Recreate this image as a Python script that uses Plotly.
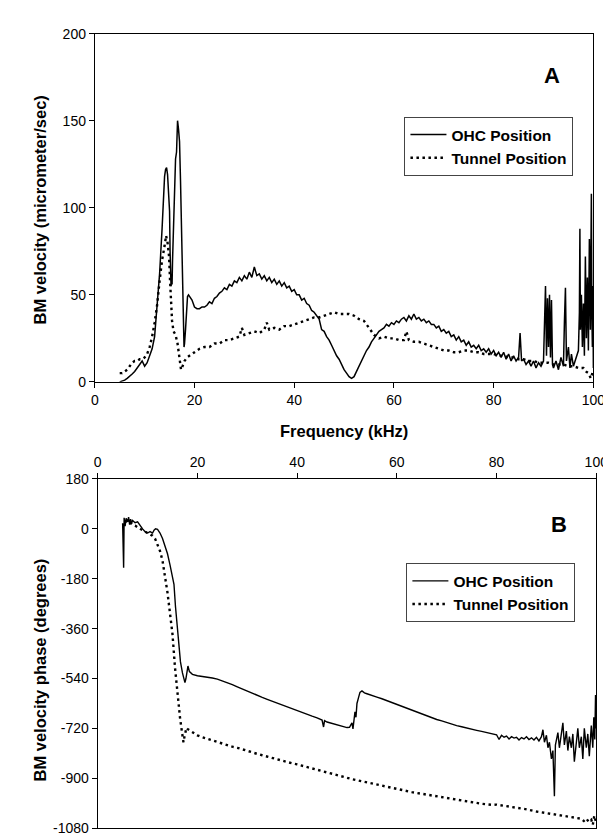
import plotly.graph_objects as go

# ---------------- Panel A: BM velocity magnitude ----------------
ohc_mag_f = [5.0, 5.5, 6.0, 6.5, 7.0, 7.5, 8.0, 8.5, 9.0, 9.5, 10.0, 10.5, 11.0, 11.5, 12.0, 12.5,
             13.0, 13.5, 13.8, 14.0, 14.2, 14.4, 14.6, 14.8, 15.0, 15.1, 15.2, 15.3, 15.4, 15.5, 15.6,
             15.8, 16.0, 16.2, 16.4, 16.6, 16.8, 17.0, 17.2, 17.4, 17.6, 17.8, 17.9, 18.0, 18.2, 18.4,
             18.6, 18.8, 19.0, 19.5, 20.0, 20.5, 21.0, 21.5, 22.0,
             22.5, 23, 23.5, 24, 24.5, 25, 25.5, 26, 26.5, 27, 27.5, 28, 28.5, 29, 29.5, 30, 30.5, 31,
             31.5, 32, 32.5, 33, 33.5, 34, 34.5, 35, 35.5, 36, 36.5, 37, 37.5, 38, 38.5, 39, 39.5, 40,
             40.5, 41, 41.5, 42, 42.5, 43, 43.5, 44, 44.5, 45, 45.5, 46, 46.5, 47, 47.5, 48, 48.5, 49,
             49.5, 50, 50.5, 51, 51.5, 52, 52.5, 53, 53.5, 54, 54.5, 55, 55.5, 56, 56.5, 57, 57.5, 58,
             58.5, 59, 59.5, 60, 60.5, 61, 61.5, 62, 62.5, 63, 63.5, 64, 64.5, 65, 65.5, 66, 66.5, 67,
             67.5, 68, 68.5, 69, 69.5, 70, 70.5, 71, 71.5, 72, 72.5, 73, 73.5, 74, 74.5, 75, 75.5, 76,
             76.5, 77, 77.5, 78, 78.5, 79, 79.5, 80, 80.5, 81, 81.5, 82, 82.5, 83, 83.5, 84, 84.5, 85,
             85.3, 85.6, 86, 86.5, 87, 87.5, 88, 88.5, 89, 89.5, 90, 90.2, 90.4, 90.6, 90.8, 91, 91.2,
             91.4, 91.6, 91.8, 92, 92.5, 93, 93.5, 94, 94.2, 94.4, 94.6, 95, 95.3, 95.6, 96, 96.5, 97,
             97.2, 97.3, 97.4, 97.6, 97.8, 98, 98.2, 98.4, 98.6, 98.8, 99, 99.2, 99.4, 99.5, 99.6, 99.7,
             99.8, 99.9, 100]
ohc_mag_v = [0, 0.5, 1, 2, 3, 4.5, 6, 8, 10, 12, 9, 11, 15, 19, 26, 42,
             62, 88, 108, 118, 122, 123, 119, 110, 98, 75, 60, 55, 62, 56, 70,
             95, 112, 128, 132, 150, 145, 138, 115, 90, 60, 35, 20, 22, 30, 42,
             49, 50, 49, 47, 43, 42, 42, 43, 43,
             44, 46, 45, 48, 49, 51, 52, 54, 53, 56, 55, 58, 57, 60, 58, 61, 59, 63,
             60, 66, 61, 62, 59, 61, 58, 60, 57, 59, 56, 58, 55, 57, 54, 55, 52, 53,
             50, 50, 47, 48, 45, 44, 41, 40, 38, 36, 30, 29, 26, 24, 21, 18, 15, 13,
             10, 7, 5, 3, 2, 3, 6, 9, 12, 15, 18, 20, 23, 25, 27, 29, 30, 31,
             33, 32, 34, 33, 35, 34, 36, 37, 35, 38, 36, 39, 36, 37, 35, 36, 34, 35,
             33, 33, 31, 32, 29, 30, 28, 29, 26, 27, 24, 26, 23, 24, 21, 23, 20, 21,
             19, 21, 18, 19, 17, 19, 16, 18, 15, 17, 14, 17, 13, 16, 12, 15, 12, 14,
             28, 12, 13, 10, 12, 9, 12, 8, 11, 9, 12, 30, 55, 15, 48, 20, 50,
             14, 47, 10, 8, 12, 7, 14, 9, 35, 54, 12, 20, 8, 16, 9, 13, 18,
             40, 88, 30, 50, 20, 45, 15, 72, 25, 60, 18, 82, 30, 70, 108, 40,
             20, 55, 8]

tun_mag_f = [5, 5.5, 6, 6.5, 7, 7.5, 8, 8.5, 9, 9.5, 10, 10.5, 11, 11.5, 12, 12.5, 13, 13.5, 14,
             14.3, 14.6, 14.9, 15.1, 15.3, 15.5, 15.8, 16.2, 16.6, 17.0, 17.3, 17.6, 18, 18.5, 19,
             20, 21, 22, 23, 24, 25, 26, 27, 28, 29, 29.5, 30, 31, 32, 33, 34, 34.5, 35, 36, 37, 38,
             39, 40, 41, 42, 43, 44, 45, 46, 47, 48, 49, 50, 51, 52, 53, 54, 55, 56, 57, 58, 59, 60,
             61, 62, 62.5, 63, 64, 65, 66, 67, 68, 69, 70, 71, 72, 73, 74, 75, 76, 77, 78, 79, 80,
             81, 82, 83, 84, 85, 86, 87, 88, 89, 90, 91, 92, 93, 94, 95, 96, 97, 98, 98.5, 99, 99.5,
             100]
tun_mag_v = [5, 5, 6, 7, 9, 11, 12, 12, 13, 13, 14, 16, 20, 26, 34, 44, 58, 70, 78,
             84, 80, 72, 58, 45, 35, 29, 27, 22, 12, 7, 9, 12, 14, 15,
             17, 19, 20, 20, 22, 22, 24, 24, 25, 26, 31, 27, 28, 29, 28, 30, 34, 30, 31, 30, 32,
             32, 33, 34, 35, 36, 37, 37, 38, 39, 40, 39, 39, 39, 38, 36, 35, 31, 27, 25, 26, 25, 25,
             24, 24, 29, 24, 23, 23, 22, 21, 20, 19, 18, 18, 17, 17, 18, 18, 17, 17, 16, 16, 16,
             15, 15, 14, 14, 13, 13, 12, 12, 11, 11, 11, 10, 10, 10, 9, 9, 8, 8, 6, 5, 2,
             7]

# ---------------- Panel B: BM velocity phase ----------------
ohc_ph_f = [5, 5.1, 5.2, 5.3, 5.5, 5.7, 6, 6.2, 6.4, 6.6, 6.8, 7, 7.5, 8, 8.5, 9, 9.5, 10, 10.5,
            11, 11.3, 11.6, 12, 12.5, 13, 13.5, 14, 14.5, 15, 15.3, 15.6, 16, 16.3, 16.6, 17, 17.3,
            17.5, 17.7, 17.9, 18.1, 18.4, 19, 20, 21, 22, 23, 24, 25, 26, 27, 28, 29, 30, 31, 32,
            33, 34, 35, 36, 37, 38, 39, 40, 41, 42, 43, 44, 45, 45.3, 45.5, 46, 47, 48, 49, 50,
            50.5, 51, 51.2, 51.4, 51.6, 51.8, 52, 52.3, 52.6, 53, 53.5, 54, 55, 56, 57, 58, 59, 60,
            61, 62, 63, 64, 65, 66, 67, 68, 69, 70, 71, 72, 73, 74, 75, 76, 77, 78, 79, 80, 80.5,
            81, 81.5, 82, 82.5, 83, 83.5, 84, 84.5, 85, 85.5, 86, 86.5, 87, 87.5, 88, 88.5, 89,
            89.3, 89.6, 90, 90.3, 90.6, 91, 91.3, 91.6, 91.8, 92, 92.3, 92.6, 93, 93.3, 93.6, 94,
            94.3, 94.6, 95, 95.3, 95.6, 96, 96.3, 96.6, 97, 97.3, 97.6, 98, 98.3, 98.6, 99, 99.3,
            99.5, 99.7, 99.85, 100]
ohc_ph_v = [20, -30, -140, 40, 10, 38, 25, 42, 15, 35, 20, 30, 22, 25, 10, 0, -10, -15, -10,
            -15, -5, 0, -2, -15, -35, -60, -90, -130, -170, -200, -280, -370, -430, -480, -520, -545,
            -555, -540, -505, -495, -515, -525, -530, -532, -535, -538, -542, -548, -555, -562, -570, -578, -586, -594, -602,
            -608, -615, -622, -628, -636, -643, -650, -656, -663, -670, -676, -682, -690, -715, -692, -697, -702, -708, -714, -717,
            -716, -700, -722, -690, -660, -680, -630, -610, -590, -585, -592, -595, -600, -607, -613, -620, -627, -634,
            -641, -648, -655, -662, -668, -675, -681, -688, -693, -699, -705, -710, -714, -719, -723, -727, -731, -735, -739, -743, -760,
            -745, -752, -748, -758, -750, -755, -752, -762, -753, -758, -750, -760, -754, -762, -752, -765, -750,
            -725, -770, -745, -790, -770, -830, -800, -965, -780, -760, -735, -790, -740, -700, -780, -730,
            -800, -750, -790, -740, -840, -760, -720, -790, -750, -830, -720, -790, -740, -820, -710, -790,
            -680, -760, -600, -720]

tun_ph_f = [5.5, 6, 6.5, 7, 7.5, 8, 8.5, 9, 9.5, 10, 10.5, 11, 11.5, 12, 12.5, 13, 13.5, 14, 14.5,
            15, 15.5, 16, 16.5, 16.8, 17, 17.2, 17.4, 17.6, 17.8, 18, 18.5, 19, 20, 21, 22, 23, 24,
            25, 26, 27, 28, 29, 30, 31, 32, 33, 34, 35, 36, 37, 38, 39, 40, 41, 42, 43, 44, 45, 46,
            47, 48, 49, 50, 51, 52, 53, 54, 55, 56, 57, 58, 59, 60, 61, 62, 63, 64, 65, 66, 67, 68,
            69, 70, 71, 72, 73, 74, 75, 76, 77, 78, 79, 80, 82, 84, 86, 88, 90, 92, 94, 95, 96, 97,
            97.5, 98, 98.5, 99, 99.3, 99.6, 100]
tun_ph_v = [30, 20, 22, 15, 12, 5, 0, -5, -10, -15, -20, -25, -35, -55, -80, -115, -165, -230, -305,
            -380, -500, -600, -680, -720, -755, -770, -750, -730, -718, -722, -728, -735, -745, -752, -758, -762, -768,
            -775, -780, -786, -790, -796, -800, -806, -812, -817, -822, -828, -832, -838, -842, -846, -850, -855, -860, -865, -870, -874, -878,
            -883, -888, -893, -898, -903, -907, -911, -915, -919, -924, -928, -932, -936, -940, -943, -946, -950, -953, -956, -959, -962, -966,
            -970, -973, -976, -979, -982, -985, -988, -990, -992, -994, -996, -995, -1000, -1005, -1012, -1020, -1026, -1032, -1038, -1040, -1044, -1046,
            -1054, -1045, -1058, -1050, -1068, -1035, -1062]

freq_ticks = [0, 20, 40, 60, 80, 100]
mag_ticks = [0, 50, 100, 150, 200]
phase_ticks = [180, 0, -180, -360, -540, -720, -900, -1080]
phase_tick_text = ["180", "0", "-180", "-360", "-540", "-720", "-900", "-1080"]

FONT = "Liberation Sans, Arial, sans-serif"
BLACK = "black"

fig = go.Figure()
fig.add_trace(go.Scatter(x=ohc_mag_f, y=ohc_mag_v, mode="lines", name="OHC Position",
                         line=dict(color=BLACK, width=1.5), xaxis="x", yaxis="y", legend="legend"))
fig.add_trace(go.Scatter(x=tun_mag_f, y=tun_mag_v, mode="lines", name="Tunnel Position",
                         line=dict(color=BLACK, width=2.4, dash="2.5px,3.5px"), xaxis="x", yaxis="y",
                         legend="legend"))
fig.add_trace(go.Scatter(x=ohc_ph_f, y=ohc_ph_v, mode="lines", name="OHC Position",
                         line=dict(color=BLACK, width=1.4), xaxis="x2", yaxis="y2", legend="legend2"))
fig.add_trace(go.Scatter(x=tun_ph_f, y=tun_ph_v, mode="lines", name="Tunnel Position",
                         line=dict(color=BLACK, width=2.4, dash="2.5px,3.5px"), xaxis="x2", yaxis="y2",
                         legend="legend2"))

W, H = 611, 836
axis_common = dict(showline=True, linecolor=BLACK, linewidth=1, mirror=True, showgrid=False,
                   zeroline=False, ticks="outside", ticklen=5, tickwidth=1, tickcolor=BLACK,
                   tickfont=dict(family=FONT, size=14, color=BLACK))

legend_common = dict(xref="paper", yref="paper", xanchor="left", yanchor="top",
                     bgcolor="white", bordercolor="#444", borderwidth=1, itemwidth=36,
                     font=dict(family=FONT, size=15.5, color=BLACK, weight="bold"),
                     tracegroupgap=0)

fig.update_layout(
    width=W, height=H, margin=dict(l=0, r=0, t=0, b=0),
    paper_bgcolor="white", plot_bgcolor="white",
    font=dict(family=FONT, color=BLACK),
    xaxis=dict(domain=[85 / W, 597 / W], anchor="y", range=[0, 100],
               tickvals=freq_ticks, **axis_common),
    yaxis=dict(domain=[1 - 373 / H, 1 - 18 / H], anchor="x", range=[0, 200],
               tickvals=mag_ticks, **axis_common),
    xaxis2=dict(domain=[88 / W, 600 / W], anchor="y2", side="top", range=[0, 100],
                tickvals=freq_ticks, **axis_common),
    yaxis2=dict(domain=[1 - 828 / H, 1 - 472 / H], anchor="x2", range=[-1080, 180],
                tickvals=phase_ticks, ticktext=phase_tick_text, **axis_common),
    legend=dict(x=403 / W, y=1 - 103 / H, **legend_common),
    legend2=dict(x=405 / W, y=1 - 558 / H, **legend_common),
    showlegend=True,
)

annotations = [
    dict(text="<b>A</b>", x=555 / W, y=1 - 61 / H, font=dict(size=22)),
    dict(text="<b>B</b>", x=562 / W, y=1 - 518 / H, font=dict(size=22)),
    dict(text="<b>BM velocity (micrometer/sec)</b>", x=29 / W, y=1 - 198 / H, textangle=-90,
         font=dict(size=16.5)),
    dict(text="<b>BM velocity phase (degrees)</b>", x=29 / W, y=1 - 667 / H, textangle=-90,
         font=dict(size=16.5)),
    dict(text="<b>Frequency (kHz)</b>", x=341 / W, y=1 - 423 / H, font=dict(size=16.5)),
]
for a in annotations:
    a.update(xref="paper", yref="paper", showarrow=False, xanchor="center", yanchor="middle")
    a["font"].update(family=FONT, color=BLACK)
fig.update_layout(annotations=annotations)

fig.write_html("out.html")
